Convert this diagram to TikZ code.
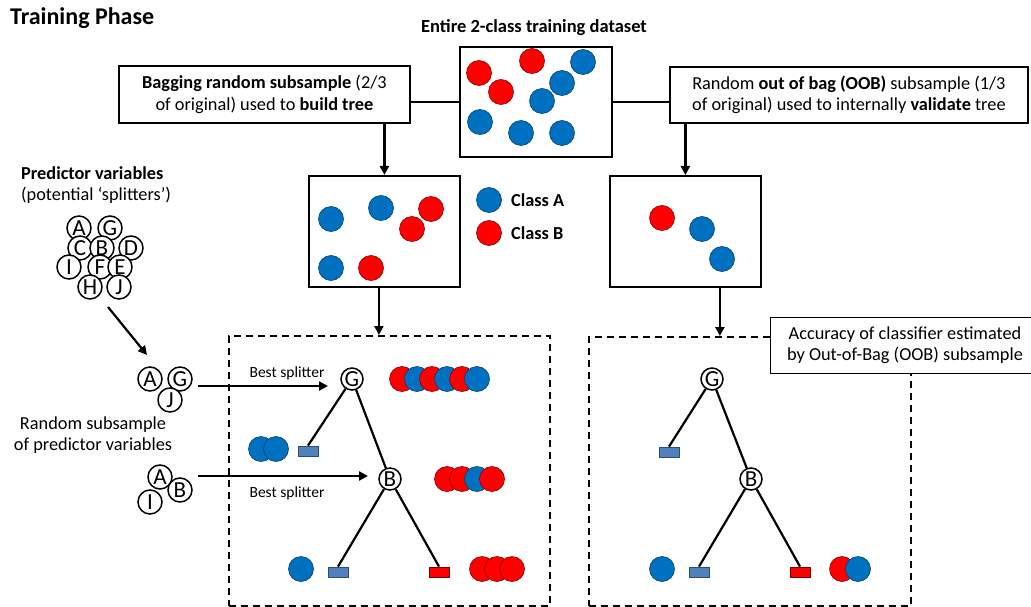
\documentclass[tikz,border=0pt]{standalone}
\usepackage{fontspec}
\setmainfont{Carlito}
\usetikzlibrary{arrows.meta}
\definecolor{cA}{HTML}{0070C0}
\definecolor{cB}{HTML}{FF0000}
\definecolor{leafblue}{HTML}{4F81BD}
\begin{document}
\begin{tikzpicture}[x=1pt,y=-1pt,
  txt/.style={font=\fontsize{18.3}{21.5}\selectfont, align=center, inner sep=0pt},
  box/.style={draw, line width=1.8pt, fill=white, inner sep=0pt, anchor=north west},
  dotA/.style={circle, fill=cA, draw=cA!60!black, line width=0.6pt, minimum size=25pt, inner sep=0pt},
  dotB/.style={circle, fill=cB, draw=cB!55!black, line width=0.6pt, minimum size=25pt, inner sep=0pt},
  letter/.style={circle, draw, line width=1.5pt, fill=white, minimum size=24pt, inner sep=0pt, font=\fontsize{23}{23}\selectfont},
  tnode/.style={circle, draw, line width=1.5pt, fill=white, minimum size=22pt, inner sep=0pt, font=\fontsize{23}{23}\selectfont},
  leafA/.style={rectangle, fill=leafblue, draw=leafblue!60!black, line width=0.8pt, minimum width=20pt, minimum height=10pt, inner sep=0pt},
  leafB/.style={rectangle, fill=cB, draw=cB!50!black, line width=0.8pt, minimum width=20pt, minimum height=10pt, inner sep=0pt},
  conn/.style={line width=2.2pt},
  arr/.style={conn, -{Triangle[length=9pt,width=9pt]}},
  dashbox/.style={draw, line width=1.8pt, dash pattern=on 7pt off 5pt, anchor=north west, inner sep=0pt}
]
\useasboundingbox (0,0) rectangle (1031,607);

% title
\node[anchor=west, inner sep=0pt, font=\fontsize{24}{24}\selectfont\bfseries] (title) at (10,18) {Training Phase};

% dataset
\node[txt, font=\fontsize{18.5}{21.5}\selectfont\bfseries] (dtitle) at (534,28) {Entire 2-class training dataset};
\node[box, minimum width=152pt, minimum height=110pt] (data) at (459,46) {};
\node[dotB] (d1) at (479,73) {};
\node[dotB] (d2) at (532,61) {};
\node[dotA] (d3) at (583,62) {};
\node[dotB] (d4) at (501,92) {};
\node[dotA] (d5) at (562,83) {};
\node[dotA] (d6) at (542,101) {};
\node[dotA] (d7) at (480,122) {};
\node[dotA] (d8) at (521,133) {};
\node[dotA] (d9) at (562,133) {};

% top boxes
\node[box, minimum width=291pt, minimum height=57pt] (bag) at (118,65) {};
\node[txt] (bagt) at (bag.center) {\textbf{Bagging random subsample} (2/3\\of original) used to \textbf{build tree}};
\node[box, minimum width=358pt, minimum height=56pt] (oob) at (669,66) {};
\node[txt] (oobt) at (oob.center) {Random \textbf{out of bag (OOB)} subsample (1/3\\of original) used to internally \textbf{validate} tree};
\draw[conn] (data.west) -- (data.west -| bag.east);
\draw[conn] (data.east) -- (data.east -| oob.west);

% small boxes
\node[box, minimum width=151pt, minimum height=111pt] (lsmall) at (308,175) {};
\node[box, minimum width=151pt, minimum height=111pt] (rsmall) at (609,175) {};
\draw[arr] (lsmall.north |- bag.south) -- (lsmall.north);
\draw[arr] (rsmall.north |- oob.south) -- (rsmall.north);

\node[dotA] (l1) at (331,219) {};
\node[dotA] (l2) at (381,208) {};
\node[dotB] (l3) at (431,209) {};
\node[dotB] (l4) at (412,229) {};
\node[dotA] (l5) at (331,268) {};
\node[dotB] (l6) at (371,268) {};

\node[dotB] (r1) at (662,218) {};
\node[dotA] (r2) at (702,229) {};
\node[dotA] (r3) at (722,259) {};

% legend
\node[dotA] (legA) at (489,200) {};
\node[txt, anchor=west, font=\fontsize{18.3}{21.5}\selectfont\bfseries] (legAt) at (511,200) {Class A};
\node[dotB] (legB) at (489,233) {};
\node[txt, anchor=west, font=\fontsize{18.3}{21.5}\selectfont\bfseries] (legBt) at (511,233) {Class B};

% dashed boxes
\node[dashbox, minimum width=321pt, minimum height=270pt] (ldash) at (228,335) {};
\node[dashbox, minimum width=322pt, minimum height=269pt] (rdash) at (588,336) {};
\draw[arr] ([xshift=-5.5pt]lsmall.south) -- ([xshift=-5.5pt]lsmall.south |- ldash.north);
\draw[arr] ([xshift=34.5pt]rsmall.south) -- ([xshift=34.5pt]rsmall.south |- rdash.north);

\node[box, line width=1.3pt, minimum width=265pt, minimum height=56pt] (acc) at (770,317) {};
\node[txt, anchor=center] (acct) at (905,345) {Accuracy of classifier estimated\\by Out-of-Bag (OOB) subsample};

% predictor variables
\node[txt, anchor=west, align=left] (pv) at (21,185) {\textbf{Predictor variables}\\(potential ‘splitters’)};
\node[letter] (pA) at (79,228) {A};
\node[letter] (pG) at (110,228) {G};
\node[letter] (pC) at (80,248) {C};
\node[letter] (pB) at (102,248) {B};
\node[letter] (pD) at (131,248) {D};
\node[letter] (pI) at (69,267) {I};
\node[letter] (pF) at (100,267) {F};
\node[letter] (pE) at (120,267) {E};
\node[letter] (pH) at (90,287) {H};
\node[letter] (pJ) at (119,287) {J};
\coordinate (pa1) at (108,307);
\coordinate (pa2) at (147,355);
\draw[arr] (pa1) -- (pa2);

% random subsamples
\node[letter] (sA) at (150,379) {A};
\node[letter] (sG) at (180,379) {G};
\node[letter] (sJ) at (170,400) {J};
\node[txt] (rs) at (93,435) {Random subsample\\of predictor variables};
\node[letter] (tA) at (160,477) {A};
\node[letter] (tB) at (180,490) {B};
\node[letter] (tI) at (150,502) {I};

% left tree
\node[tnode] (G1) at (352,379) {G};
\node[tnode] (B1) at (390,479) {B};
\node[leafA] (la1) at (308,451) {};
\node[leafA] (la2) at (338,572) {};
\node[leafB] (lb1) at (439,572) {};
\draw[conn] (G1) -- (la1.north);
\draw[conn] (G1) -- (B1);
\draw[conn] (B1) -- (la2.north);
\draw[conn] (B1) -- (lb1.north);

\coordinate (s1) at (198,386);
\coordinate (e1) at (328,386);
\draw[arr] (s1) -- (e1);
\node[inner sep=0pt, font=\fontsize{15.5}{15.5}\selectfont] (bs1) at (287,373) {Best splitter};
\coordinate (s2) at (198,476);
\coordinate (e2) at (368,476);
\draw[arr] (s2) -- (e2);
\node[inner sep=0pt, font=\fontsize{15.5}{15.5}\selectfont] (bs2) at (287,493) {Best splitter};

\node[dotB] (g1) at (402,379) {};
\node[dotA] (g2) at (417,379) {};
\node[dotB] (g3) at (432,379) {};
\node[dotA] (g4) at (447,379) {};
\node[dotB] (g5) at (462,379) {};
\node[dotA] (g6) at (477,379) {};

\node[dotA] (h1) at (261,449) {};
\node[dotA] (h2) at (276,449) {};

\node[dotB] (b1) at (447,479) {};
\node[dotB] (b2) at (462,479) {};
\node[dotA] (b3) at (477,479) {};
\node[dotB] (b4) at (492,479) {};

\node[dotA] (k1) at (301,569) {};
\node[dotB] (m1) at (482,569) {};
\node[dotB] (m2) at (497,569) {};
\node[dotB] (m3) at (512,569) {};

% right tree
\node[tnode] (G2) at (712,379) {G};
\node[tnode] (B2) at (751,479) {B};
\node[leafA] (ra1) at (669,452) {};
\node[leafA] (ra2) at (699,572) {};
\node[leafB] (rb1) at (800,572) {};
\draw[conn] (G2) -- (ra1.north);
\draw[conn] (G2) -- (B2);
\draw[conn] (B2) -- (ra2.north);
\draw[conn] (B2) -- (rb1.north);

\node[dotA] (k2) at (662,569) {};
\node[dotB] (n1) at (842,569) {};
\node[dotA] (n2) at (858,569) {};
\end{tikzpicture}
\end{document}
